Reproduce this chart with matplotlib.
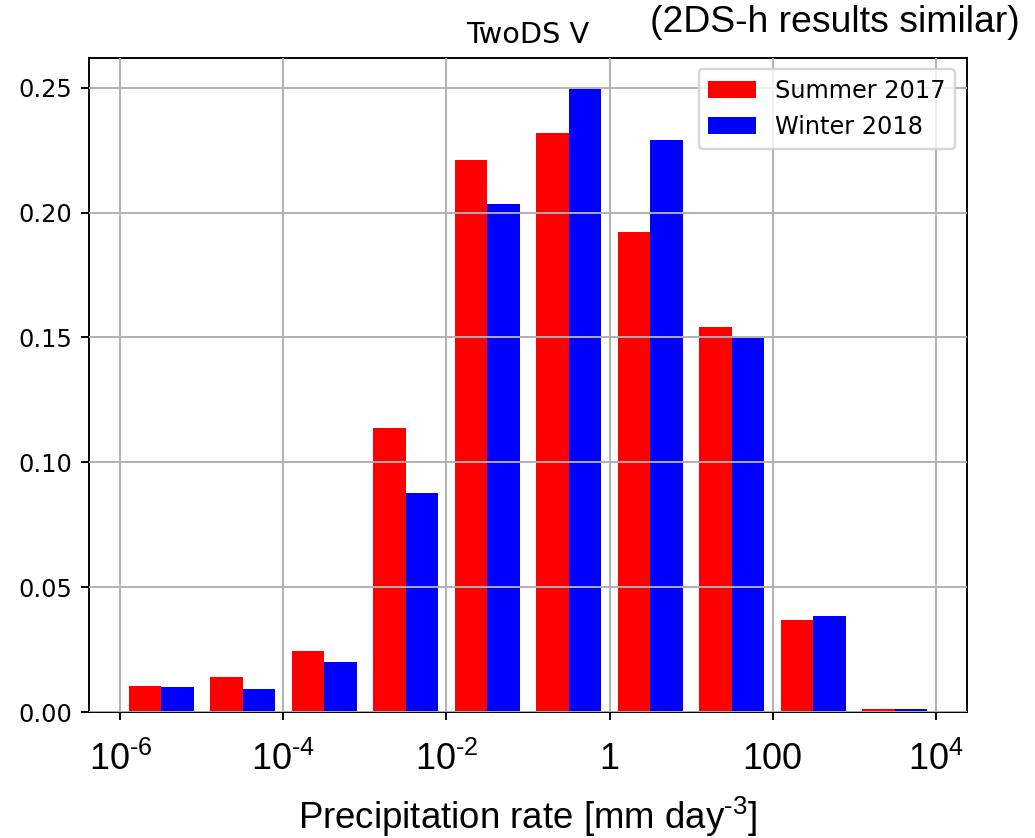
import matplotlib
matplotlib.use("Agg")
import matplotlib.pyplot as plt
import numpy as np

# decade bins (log10 of lower edge)
decades = [-6, -5, -4, -3, -2, -1, 0, 1, 2, 3]
summer = [0.0105, 0.0142, 0.0243, 0.1138, 0.2212, 0.2319, 0.1921, 0.1542, 0.0370, 0.0014]
winter = [0.0100, 0.0093, 0.0200, 0.0876, 0.2035, 0.2496, 0.2290, 0.1496, 0.0384, 0.0014]
tick_vals = [1e-6, 1e-4, 1e-2, 1, 100, 1e4]
tick_labels = [r"$10^{\text{-}6}$", r"$10^{\text{-}4}$", r"$10^{\text{-}2}$", "1", "100", r"$10^{4}$"]

plt.rcParams["mathtext.fontset"] = "custom"
plt.rcParams["mathtext.rm"] = "Liberation Sans"
plt.rcParams["mathtext.it"] = "Liberation Sans"
plt.rcParams["mathtext.default"] = "regular"

def main():
    fig = plt.figure(figsize=(6.0, 838 / 172.5), dpi=172.5)
    ax = fig.add_axes([88.7 / 1035, 1 - 712 / 838, (967.3 - 88.7) / 1035, (712 - 57.5) / 838])

    d = np.array(decades, dtype=float)
    red_left = 10 ** (d + 0.1)
    mid = 10 ** (d + 0.5)
    blue_right = 10 ** (d + 0.9)
    ax.bar(red_left, summer, width=mid - red_left, align="edge", color="red", label="Summer 2017")
    ax.bar(mid, winter, width=blue_right - mid, align="edge", color="blue", label="Winter 2018")

    ax.set_xscale("log")
    ax.set_xticks(tick_vals)
    ax.set_xticklabels(tick_labels, fontsize=15, family="Liberation Sans")
    ax.xaxis.set_minor_locator(matplotlib.ticker.NullLocator())
    ax.tick_params(axis="x", pad=9)
    ax.set_yticks([0, 0.05, 0.10, 0.15, 0.20, 0.25])
    ax.yaxis.set_major_formatter(matplotlib.ticker.FormatStrFormatter("%.2f"))
    ax.grid(True)
    ax.set_axisbelow(False)

    ax.set_title("TwoDS V")
    ax.legend(loc="upper right")

    ax.set_xlabel(r"Precipitation rate [mm day$^{\text{-}3}$]", fontsize=15.3, family="Liberation Sans")
    ax.xaxis.set_label_coords(0.5, -(795 - 712) / 654.5)

    fig.text(1020 / 1035, 1 - 23 / 838, "(2DS-h results similar)", ha="right", va="center",
             fontsize=15.6, family="Liberation Sans")

    fig.savefig("out.png", dpi=172.5)

main()
